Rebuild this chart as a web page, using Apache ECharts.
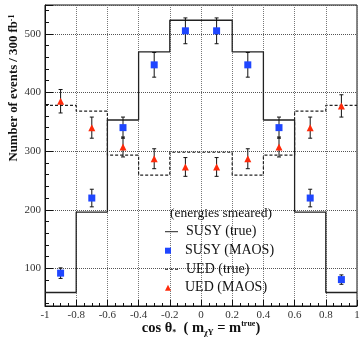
<!DOCTYPE html>
<html>
<head>
<meta charset="utf-8">
<script src="https://cdn.jsdelivr.net/npm/echarts@6/dist/echarts.min.js"></script>
<style>
  html, body { margin: 0; padding: 0; background: #fff; }
  #chart { width: 360px; height: 337px; }
</style>
</head>
<body>
<div id="chart"></div>
<script>
const binEdges = [-1, -0.8, -0.6, -0.4, -0.2, 0, 0.2, 0.4, 0.6, 0.8, 1]
const binCenters = [-0.9, -0.7, -0.5, -0.3, -0.1, 0.1, 0.3, 0.5, 0.7, 0.9]
const susyTrue = [59, 196, 353, 469, 523, 523, 469, 353, 196, 59]
const uedTrue = [378, 368, 293, 259, 298, 298, 259, 293, 368, 378]
const susyMaos = [92, 220, 340, 447, 505, 505, 447, 340, 220, 81]
const susyErr = [9, 15, 18, 21, 22, 22, 21, 18, 15, 8]
const uedMaos = [385, 340, 307, 287, 273, 273, 287, 307, 340, 377]
const uedErr = [20, 18, 17, 17, 16, 16, 17, 17, 18, 19]

const SERIF = 'Liberation Serif, Times New Roman, serif'
const INK = '#111'

// histogram outline: one point per left bin edge, last edge repeats last value
const stepData = (vals) =>
  binEdges.map((x, i) => [x, vals[Math.min(i, vals.length - 1)]])

const errData = (vals, errs) =>
  binCenters.map((x, i) => [x, vals[i] - errs[i], vals[i] + errs[i]])

const errorBars = (data) => ({
  type: 'custom',
  data,
  z: 3,
  silent: true,
  renderItem: (params, api) => {
    const lo = api.coord([api.value(0), api.value(1)])
    const hi = api.coord([api.value(0), api.value(2)])
    const cap = 2
    const style = { stroke: INK, lineWidth: 1 }
    return {
      type: 'group',
      children: [
        { type: 'line', shape: { x1: lo[0], y1: lo[1], x2: hi[0], y2: hi[1] }, style },
        { type: 'line', shape: { x1: lo[0] - cap, y1: lo[1], x2: lo[0] + cap, y2: lo[1] }, style },
        { type: 'line', shape: { x1: hi[0] - cap, y1: hi[1], x2: hi[0] + cap, y2: hi[1] }, style },
      ],
    }
  },
})

// one legend per row so line samples and markers can have their own sizes;
// icons carry a trailing moveTo so every label starts at the same x
const legendRow = (name, top, icon, h) => ({
  orient: 'vertical',
  padding: 0,
  left: 165,
  top,
  itemWidth: 16,
  itemHeight: h,
  textStyle: { fontFamily: SERIF, fontSize: 14, color: INK, lineHeight: 14 },
  data: [{ name, icon }],
})

const solidIcon = 'path://M0,0h13v1h-13z M16,0'
const dashIcon = 'path://M0,0h3v1h-3z M5,0h3v1h-3z M10,0h3v1h-3z M16,0'
const squareIcon = 'path://M2,0h6v6h-6z M16,6'
const triangleIcon = 'path://M5,0L8,6L2,6z M16,6'

const chart = echarts.init(document.getElementById('chart'), null, { renderer: 'canvas' })

chart.setOption({
  animation: false,
  backgroundColor: '#fff',
  title: {
    text: '(energies smeared)',
    left: 170,
    top: 206,
    padding: 0,
    textStyle: { fontFamily: SERIF, fontSize: 13.5, fontWeight: 'normal', color: INK },
  },
  legend: [
    legendRow('SUSY (true)', 224.7, solidIcon, 1),
    legendRow('SUSY (MAOS)', 243.7, squareIcon, 6),
    legendRow('UED (true)', 262.3, dashIcon, 1),
    legendRow('UED (MAOS)', 280.7, triangleIcon, 6),
  ],
  graphic: [
    {
      type: 'text',
      x: 14,
      y: 88,
      rotation: Math.PI / 2,
      style: {
        text: '{b|Number of events / 300 fb}{sup|-1}',
        align: 'center',
        verticalAlign: 'middle',
        rich: {
          b: { fontFamily: SERIF, fontSize: 12.8, fontWeight: 'bold', fill: INK },
          sup: { fontFamily: SERIF, fontSize: 8, fontWeight: 'bold', fill: INK, verticalAlign: 'top', padding: [0, 0, 5, 0] },
        },
      },
    },
  ],
  grid: {
    left: 45,
    right: 3,
    top: 5,
    bottom: 31,
    show: true,
    borderColor: INK,
    borderWidth: 1,
    outerBoundsMode: 'none',
  },
  xAxis: {
    type: 'value',
    min: -1,
    max: 1,
    interval: 0.2,
    name: '{b|cos θ}{sub|*}{b|  ( m}{sub|χY}{b| = m}{sup|true}{b|)}',
    nameLocation: 'middle',
    nameGap: 14,
    nameMoveOverlap: false,
    nameTextStyle: {
      rich: {
        b: { fontFamily: SERIF, fontSize: 14.5, fontWeight: 'bold', color: INK },
        sub: { fontFamily: SERIF, fontSize: 8, fontWeight: 'bold', color: INK, verticalAlign: 'bottom', padding: [9, 0, 0, 0] },
        sup: { fontFamily: SERIF, fontSize: 8, fontWeight: 'bold', color: INK, verticalAlign: 'top', padding: [0, 0, 7, 0] },
      },
    },
    axisLine: { onZero: false, lineStyle: { color: INK, width: 1 } },
    axisTick: { inside: true, length: 6, lineStyle: { color: INK } },
    minorTick: { show: true, splitNumber: 4, length: 3, lineStyle: { color: INK } },
    axisLabel: {
      margin: 4,
      fontFamily: SERIF,
      fontSize: 11,
      color: '#333',
      formatter: (v) => String(Number(v.toFixed(1))),
    },
    splitLine: { show: true, lineStyle: { type: 'dotted', color: '#777', width: 1 } },
  },
  yAxis: {
    type: 'value',
    min: 36,
    max: 549,
    splitNumber: 5,
    minInterval: 100,
    maxInterval: 100,
    axisLine: { show: true, onZero: false, lineStyle: { color: INK, width: 1 } },
    axisTick: { inside: true, length: 8, lineStyle: { color: INK } },
    minorTick: { show: true, splitNumber: 5, length: 4, lineStyle: { color: INK } },
    axisLabel: {
      margin: 4,
      fontFamily: SERIF,
      fontSize: 11,
      color: '#333',
      showMinLabel: false,
      showMaxLabel: false,
    },
    splitLine: { show: true, lineStyle: { type: 'dotted', color: '#555', width: 1 } },
  },
  series: [
    {
      name: 'SUSY (true)',
      type: 'line',
      step: 'end',
      symbol: 'none',
      data: stepData(susyTrue),
      lineStyle: { color: '#222', width: 1.3 },
      itemStyle: { color: '#222' },
      z: 2,
    },
    {
      name: 'UED (true)',
      type: 'line',
      step: 'end',
      symbol: 'none',
      data: stepData(uedTrue),
      lineStyle: { color: '#222', width: 1.2, type: [3, 2] },
      itemStyle: { color: '#222' },
      z: 2,
    },
    errorBars(errData(susyMaos, susyErr)),
    errorBars(errData(uedMaos, uedErr)),
    {
      name: 'SUSY (MAOS)',
      type: 'scatter',
      symbol: 'rect',
      symbolSize: 7,
      data: binCenters.map((x, i) => [x, susyMaos[i]]),
      itemStyle: { color: '#1f46ff', opacity: 1 },
      z: 4,
    },
    {
      name: 'UED (MAOS)',
      type: 'scatter',
      symbol: 'triangle',
      symbolSize: 7,
      data: binCenters.map((x, i) => [x, uedMaos[i]]),
      itemStyle: { color: '#ff2a0a', opacity: 1 },
      z: 4,
    },
  ],
})
</script>
</body>
</html>
